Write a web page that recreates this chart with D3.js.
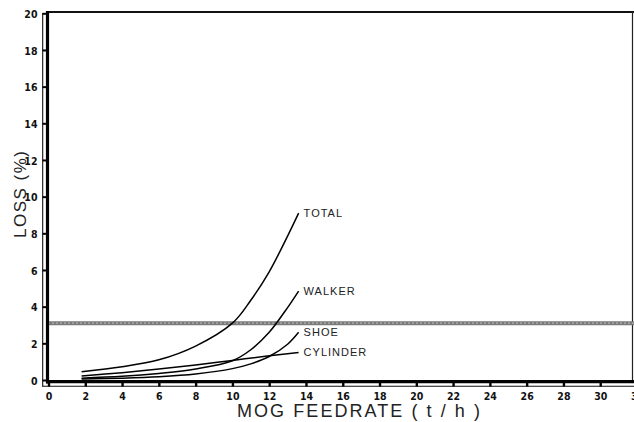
<!DOCTYPE html>
<html><head><meta charset="utf-8">
<script src="https://cdn.jsdelivr.net/npm/d3@7"></script>
<style>html,body{margin:0;padding:0;background:#fff;}svg{display:block;}</style>
</head><body>
<svg id="c" width="634" height="422"></svg>
<script>
// ---- data ----
const xTicks = [0,2,4,6,8,10,12,14,16,18,20,22,24,26,28,30,32];
const yTicks = [0,2,4,6,8,10,12,14,16,18,20];
const refLine = 3.1;
const totalX = [1.8,4,6,8,10,11,12,13,13.6];
const totalY = [0.45,0.72,1.1,1.85,3.1,4.35,5.9,7.85,9.1];
const walkerX = [1.8,4,6,8,10,11,12,13,13.6];
const walkerY = [0.1,0.2,0.36,0.6,1.05,1.65,2.6,3.95,4.85];
const shoeX = [1.8,4,6,8,10,11,12,13,13.6];
const shoeY = [0.05,0.1,0.18,0.33,0.62,0.88,1.28,1.95,2.6];
const cylX = [1.8,4,6,8,10,12,13.6];
const cylY = [0.22,0.4,0.6,0.82,1.07,1.32,1.5];
const seriesNames = ["TOTAL","WALKER","SHOE","CYLINDER"];

const series = [
  {name:seriesNames[0], xs:totalX, ys:totalY},
  {name:seriesNames[1], xs:walkerX, ys:walkerY},
  {name:seriesNames[2], xs:shoeX, ys:shoeY},
  {name:seriesNames[3], xs:cylX, ys:cylY}
];

const svg = d3.select("#c");
const x = d3.scaleLinear().domain([0,32]).range([48.5,637]);
const y = d3.scaleLinear().domain([0,20]).range([380,13.3]);

const tickFont = "'Liberation Sans Narrow','DejaVu Sans Condensed','Arial Narrow','Roboto Condensed',sans-serif";

// frame: top & right
svg.append("line").attr("x1",46).attr("x2",634).attr("y1",12).attr("y2",12)
  .attr("stroke","#111").attr("stroke-width",2.2);
svg.append("line").attr("x1",632.5).attr("x2",632.5).attr("y1",12).attr("y2",382)
  .attr("stroke","#222").attr("stroke-width",1.2);

// reference line
svg.append("line").attr("x1",48).attr("x2",634).attr("y1",y(refLine)).attr("y2",y(refLine))
  .attr("stroke","#7a7a7a").attr("stroke-width",4);
svg.append("line").attr("x1",48).attr("x2",634).attr("y1",y(refLine)).attr("y2",y(refLine))
  .attr("stroke","#b0b0b0").attr("stroke-width",1.2).attr("stroke-dasharray","2,2");

// y axis: thin outer line + thick inner line
svg.append("line").attr("x1",42.7).attr("x2",42.7).attr("y1",13).attr("y2",386.5)
  .attr("stroke","#111").attr("stroke-width",1.1);
svg.append("line").attr("x1",47.5).attr("x2",47.5).attr("y1",11).attr("y2",383.5)
  .attr("stroke","#000").attr("stroke-width",3.2);
// x axis
svg.append("line").attr("x1",42.2).attr("x2",634).attr("y1",386.2).attr("y2",386.2)
  .attr("stroke","#111").attr("stroke-width",1.1);
svg.append("line").attr("x1",46).attr("x2",634).attr("y1",381.6).attr("y2",381.6)
  .attr("stroke","#000").attr("stroke-width",3.4);

const yAxis = d3.axisLeft(y).tickValues(yTicks).tickSize(5).tickPadding(5).tickFormat(d3.format("d"));
const gy = svg.append("g").attr("transform","translate(47.5,0)").call(yAxis);
gy.select(".domain").remove();
gy.selectAll(".tick line").attr("stroke","#000").attr("stroke-width",2);
gy.selectAll(".tick text").attr("font-family",tickFont).attr("font-weight","bold")
  .attr("font-stretch","condensed")
  .attr("font-size",10.5).attr("fill","#111").attr("dy","0.4em");

const xAxis = d3.axisBottom(x).tickValues(xTicks).tickSize(4.5).tickPadding(6).tickFormat(d3.format("d"));
const gx = svg.append("g").attr("transform","translate(0,382)").call(xAxis);
gx.select(".domain").remove();
gx.selectAll(".tick line").attr("stroke","#000").attr("stroke-width",2.4);
gx.selectAll(".tick text").attr("font-family",tickFont).attr("font-weight","bold")
  .attr("font-stretch","condensed")
  .attr("font-size",10.5).attr("fill","#111");

// curves
const line = d3.line().x(d=>x(d[0])).y(d=>y(d[1])).curve(d3.curveCatmullRom.alpha(0.5));
series.forEach(s=>{
  const pts = s.xs.map((v,i)=>[v,s.ys[i]]);
  svg.append("path").attr("d",line(pts)).attr("fill","none")
    .attr("stroke","#000").attr("stroke-width",1.5);
  const last = pts[pts.length-1];
  svg.append("text").attr("x",x(last[0])+5).attr("y",y(last[1])+1)
    .attr("dominant-baseline","middle")
    .attr("font-family","'Liberation Sans',Arial,sans-serif").attr("font-size",11)
    .attr("letter-spacing",1).attr("fill","#222").text(s.name);
});

// axis titles
svg.append("text").attr("x",237).attr("y",416.5)
  .attr("font-family","'Liberation Sans',Arial,sans-serif").attr("font-size",18)
  .attr("textLength",243).attr("lengthAdjust","spacing").attr("fill","#222")
  .text("MOG FEEDRATE ( t / h )");
svg.append("text").attr("transform","translate(25.5,194.5) rotate(-90)")
  .attr("text-anchor","middle")
  .attr("font-family","'Liberation Sans',Arial,sans-serif").attr("font-size",17)
  .attr("textLength",87).attr("lengthAdjust","spacing").attr("fill","#222")
  .text("LOSS (%)");
</script>
</body></html>
